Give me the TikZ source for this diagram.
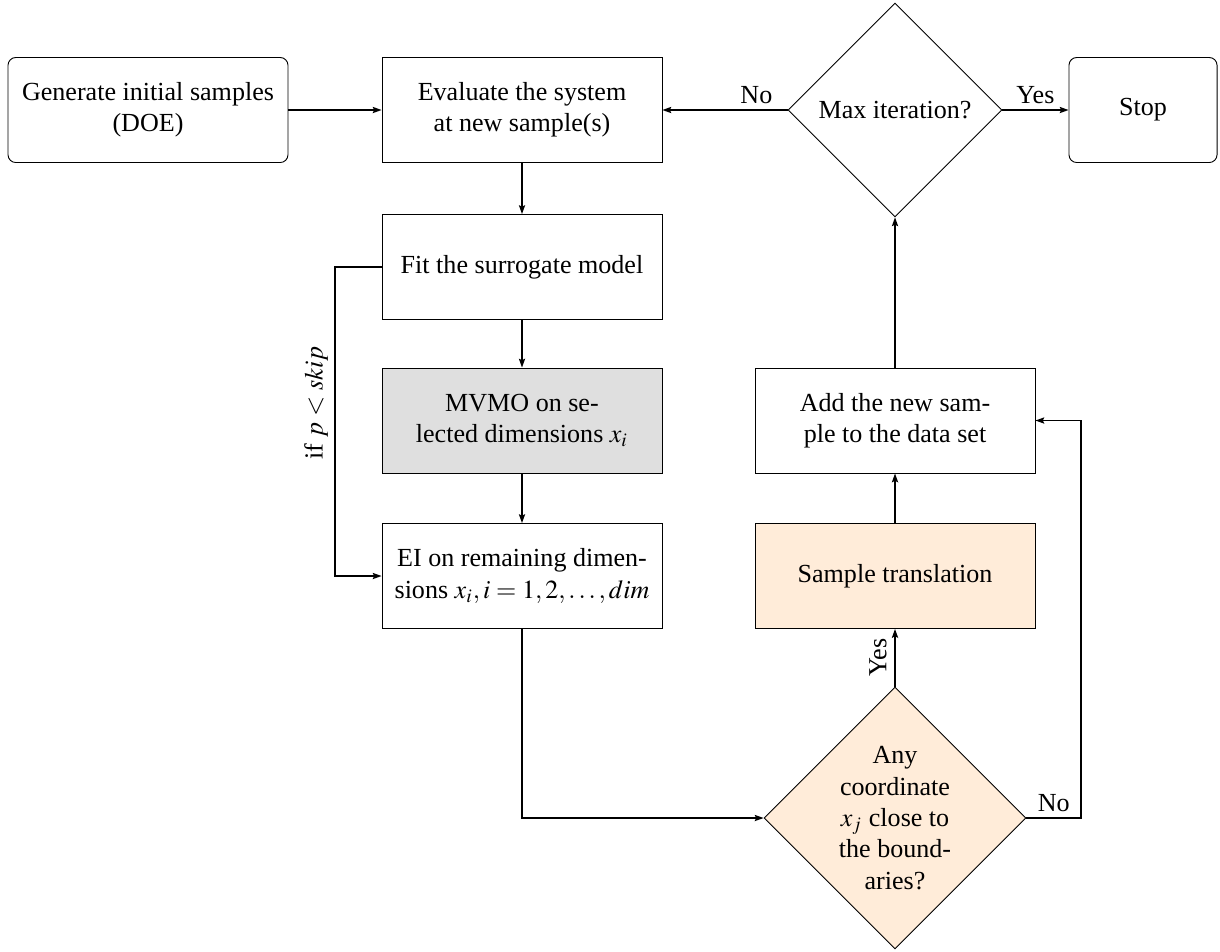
\documentclass[tikz,border=0pt]{standalone}
\usepackage{mathptmx}
\usepackage{fontspec}
\setmainfont{Liberation Serif}
\usetikzlibrary{shapes.geometric,arrows.meta}
\begin{document}
\begin{tikzpicture}[x=0.3836pt,y=-0.3836pt,
  >={Stealth[length=3.4pt,width=2.4pt,inset=0.6pt]},
  procbox/.style={draw, line width=0.35pt, minimum width=107.4pt, minimum height=40.3pt, align=center, inner sep=2pt},
  roundbox/.style={procbox, rounded corners=3pt},
  decbox/.style={draw, line width=0.35pt, diamond, aspect=1, align=center, inner sep=0pt},
  conn/.style={->, line width=0.5pt}]
\useasboundingbox (0,0) rectangle (1220,951);

\node[roundbox] (gen) at (148,110) {Generate initial samples\\(DOE)};
\node[procbox] (eval) at (522,110) {Evaluate the system\\at new sample(s)};
\node[decbox, minimum size=82pt] (maxit) at (895,110) {Max iteration?};
\node[roundbox, minimum width=56.8pt] (stop) at (1143,110) {Stop};
\node[procbox] (fit) at (522,267) {Fit the surrogate model};
\node[procbox, fill=gray!25] (mvmo) at (522,420.5) {MVMO on se-\\lected dimensions $x_i$};
\node[procbox] (ei) at (522,576) {EI on remaining dimen-\\sions $x_i, i=1,2,\ldots,dim$};
\node[procbox] (add) at (895,420.5) {Add the new sam-\\ple to the data set};
\node[procbox, fill=orange!15] (trans) at (895,576) {Sample translation};
\node[decbox, fill=orange!15, minimum size=100.5pt] (any) at (895,818) {Any\\coordinate\\$x_j$ close to\\the bound-\\aries?};

\coordinate (skl) at (335,0);
\coordinate (nor) at (1081,0);

\draw[conn] (gen) -- (eval);
\draw[conn] (maxit) -- node[pos=0.25, above, inner sep=2pt] {No} (eval);
\draw[conn] (maxit) -- node[above, inner sep=2pt] {Yes} (stop);
\draw[conn] (eval) -- (fit);
\draw[conn] (fit) -- (mvmo);
\draw[conn] (mvmo) -- (ei);
\draw[conn] (fit.west) -- (fit.west -| skl) |- node[pos=0.22, rotate=90, anchor=south, inner sep=2.5pt] {if $p<skip$} (ei.west);
\draw[conn] (ei.south) |- (any.west);
\draw[conn] (any.north) -- node[midway, rotate=90, anchor=south, inner sep=3pt] {Yes} (trans.south);
\draw[conn] (trans) -- (add);
\draw[conn] (add.north) -- (maxit.south);
\draw[conn] (any.east) -- node[above, inner sep=2pt] {No} (any.east -| nor) |- (add.east);
\end{tikzpicture}
\end{document}
